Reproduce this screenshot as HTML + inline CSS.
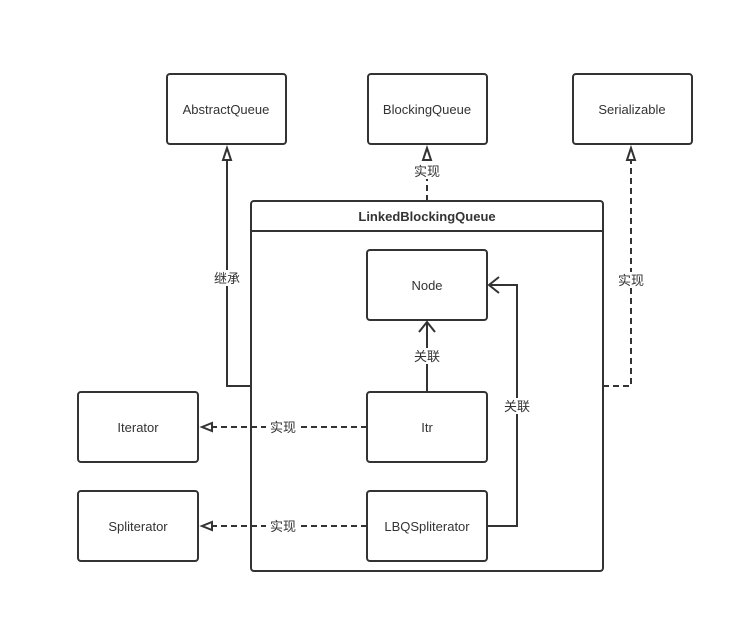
<!DOCTYPE html>
<html><head><meta charset="utf-8"><style>body{margin:0;background:#fff}svg{display:block}text{font-family:"Liberation Sans","Noto Sans CJK SC",sans-serif;font-size:13px;fill:#333}</style></head><body>
<svg width="753" height="633" viewBox="0 0 753 633" xmlns="http://www.w3.org/2000/svg">
<g fill="#fff" stroke="#333" stroke-width="2">
<rect x="167" y="74" width="119" height="70" rx="3"/>
<rect x="368" y="74" width="119" height="70" rx="3"/>
<rect x="573" y="74" width="119" height="70" rx="3"/>
<rect x="251" y="201" width="352" height="370" rx="3"/>
<line x1="251" y1="231" x2="603" y2="231"/>
<rect x="367" y="250" width="120" height="70" rx="3"/>
<rect x="367" y="392" width="120" height="70" rx="3"/>
<rect x="367" y="491" width="120" height="70" rx="3"/>
<rect x="78" y="392" width="120" height="70" rx="3"/>
<rect x="78" y="491" width="120" height="70" rx="3"/>
</g>
<g fill="none" stroke="#333" stroke-width="2">
<polyline points="251,386 227,386 227,160"/>
<polyline points="427,201 427,160" stroke-dasharray="6,4"/>
<polyline points="603,386 631,386 631,160" stroke-dasharray="6,4"/>
<line x1="367" y1="427" x2="212" y2="427" stroke-dasharray="6,4"/>
<line x1="367" y1="526" x2="212" y2="526" stroke-dasharray="6,4"/>
<line x1="427" y1="392" x2="427" y2="322"/>
<polyline points="419,332 427,322 435,332"/>
<polyline points="487,526 517,526 517,285 489,285"/>
<polyline points="499,277 489,285 499,293"/>
</g>
<g fill="#fff" stroke="#333" stroke-width="2">
<polygon points="227,148 223,160 231,160"/>
<polygon points="427,148 423,160 431,160"/>
<polygon points="631,148 627,160 635,160"/>
<polygon points="202,427 212,423 212,431"/>
<polygon points="202,526 212,522 212,530"/>
</g>
<g fill="#fff">
<rect x="410" y="163" width="34" height="16"/>
<rect x="211" y="270" width="32" height="16"/>
<rect x="614" y="272" width="34" height="16"/>
<rect x="410" y="348" width="34" height="16"/>
<rect x="500" y="398" width="34" height="16"/>
<rect x="266" y="419" width="34" height="16"/>
<rect x="266" y="518" width="34" height="16"/>
</g>
<g text-anchor="middle">
<text x="226" y="114">AbstractQueue</text>
<text x="427" y="114">BlockingQueue</text>
<text x="632" y="114">Serializable</text>
<text x="427" y="221" font-weight="bold">LinkedBlockingQueue</text>
<text x="427" y="290">Node</text>
<text x="427" y="432">Itr</text>
<text x="427" y="531">LBQSpliterator</text>
<text x="138" y="432">Iterator</text>
<text x="138" y="531">Spliterator</text>
<text x="427" y="176">实现</text>
<text x="227" y="283">继承</text>
<text x="631" y="285">实现</text>
<text x="427" y="361">关联</text>
<text x="517" y="411">关联</text>
<text x="283" y="432">实现</text>
<text x="283" y="531">实现</text>
</g>
</svg>
</body></html>
